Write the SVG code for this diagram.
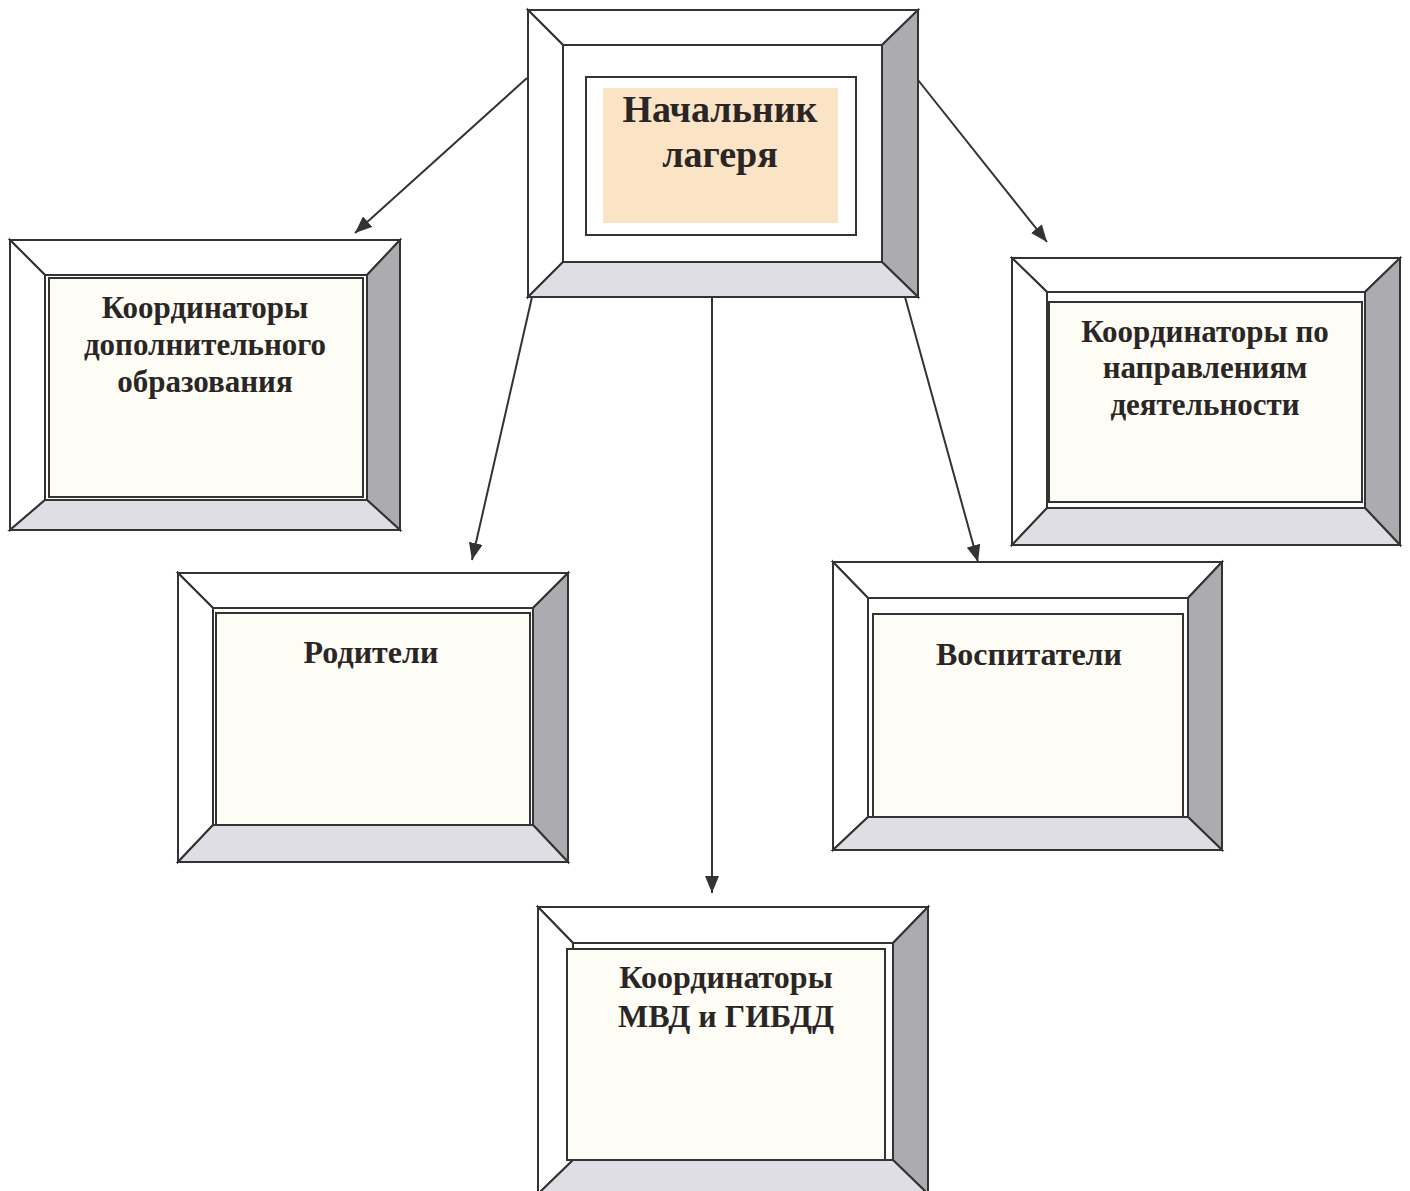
<svg xmlns="http://www.w3.org/2000/svg" width="1410" height="1191" viewBox="0 0 1410 1191">
<style>
.o{stroke:#333;stroke-width:2;stroke-linejoin:miter}
.w{fill:#ffffff}
.r{fill:#ababb0}
.b{fill:#dedee4}
.box{fill:#fdfcf5;stroke:#333;stroke-width:2}
.t{font-family:"Liberation Serif","Times New Roman",serif;font-weight:bold;fill:#2b2626;text-anchor:middle}
.c{stroke:#333;stroke-width:2;fill:none;marker-end:url(#ah)}
</style>
<defs>
<marker id="ah" markerUnits="userSpaceOnUse" markerWidth="18" markerHeight="14" refX="17" refY="7" orient="auto">
<path d="M0,0 L17,7 L0,14 z" fill="#333"/>
</marker>
</defs>
<rect width="1410" height="1191" fill="#ffffff"/>
<g id="connectors">
<line class="c" x1="527" y1="78" x2="355" y2="233"/>
<line class="c" x1="918" y1="80" x2="1047" y2="242"/>
<line class="c" x1="532" y1="297" x2="472" y2="560"/>
<line class="c" x1="712" y1="297" x2="712" y2="893"/>
<line class="c" x1="905" y1="297" x2="978" y2="562"/>
</g>
<g id="node-head">
<polygon class="o w" points="528,10 918,10 882,45 563,45"/>
<polygon class="o w" points="528,10 563,45 563,262 528,297"/>
<polygon class="o r" points="918,10 918,297 882,262 882,45"/>
<polygon class="o b" points="528,297 563,262 882,262 918,297"/>
<rect class="o" x="563" y="45" width="319" height="217" fill="#ffffff"/>
<rect class="box" x="586" y="77" width="270" height="158" fill="#ffffff" style="fill:#ffffff"/>
<rect x="603" y="88" width="235" height="135" fill="#fbe4c6"/>
<text class="t" x="720" y="122" font-size="38">Начальник</text>
<text class="t" x="720" y="167" font-size="38">лагеря</text>
</g>
<g id="node-dop">
<polygon class="o w" points="10,240 400,240 367,275 45,275"/>
<polygon class="o w" points="10,240 45,275 45,500 10,530"/>
<polygon class="o r" points="400,240 400,530 367,500 367,275"/>
<polygon class="o b" points="10,530 45,500 367,500 400,530"/>
<rect class="box" x="49" y="278" width="314" height="219"/>
<text class="t" x="205" y="318" font-size="31">Координаторы</text>
<text class="t" x="205" y="355" font-size="31">дополнительного</text>
<text class="t" x="205" y="392" font-size="31">образования</text>
</g>
<g id="node-napr">
<polygon class="o w" points="1012,258 1400,258 1365,292 1047,292"/>
<polygon class="o w" points="1012,258 1047,292 1047,508 1012,545"/>
<polygon class="o r" points="1400,258 1400,545 1365,508 1365,292"/>
<polygon class="o b" points="1012,545 1047,508 1365,508 1400,545"/>
<rect class="o" x="1047" y="292" width="318" height="216" fill="#ffffff"/>
<rect class="box" x="1049" y="302" width="313" height="200"/>
<text class="t" x="1205" y="342" font-size="31">Координаторы по</text>
<text class="t" x="1205" y="378" font-size="31">направлениям</text>
<text class="t" x="1205" y="415" font-size="31">деятельности</text>
</g>
<g id="node-rod">
<polygon class="o w" points="178,573 568,573 533,608 213,608"/>
<polygon class="o w" points="178,573 213,608 213,825 178,862"/>
<polygon class="o r" points="568,573 568,862 533,825 533,608"/>
<polygon class="o b" points="178,862 213,825 533,825 568,862"/>
<rect class="o" x="213" y="608" width="320" height="217" fill="#ffffff"/>
<rect class="box" x="216" y="613" width="314" height="212"/>
<text class="t" x="371" y="663" font-size="32">Родители</text>
</g>
<g id="node-vosp">
<polygon class="o w" points="833,562 1222,562 1188,598 868,598"/>
<polygon class="o w" points="833,562 868,598 868,817 833,850"/>
<polygon class="o r" points="1222,562 1222,850 1188,817 1188,598"/>
<polygon class="o b" points="833,850 868,817 1188,817 1222,850"/>
<rect class="o" x="868" y="598" width="320" height="219" fill="#ffffff"/>
<rect class="box" x="873" y="614" width="310" height="203"/>
<text class="t" x="1029" y="665" font-size="32">Воспитатели</text>
</g>
<g id="node-mvd">
<polygon class="o w" points="538,907 928,907 893,943 573,943"/>
<polygon class="o w" points="538,907 573,943 573,1160 538,1194"/>
<polygon class="o r" points="928,907 928,1194 893,1160 893,943"/>
<polygon class="o b" points="538,1194 573,1160 893,1160 928,1194"/>
<rect class="o" x="573" y="943" width="320" height="217" fill="#ffffff"/>
<rect class="box" x="567" y="949" width="318" height="211"/>
<text class="t" x="726" y="988" font-size="32">Координаторы</text>
<text class="t" x="726" y="1027" font-size="32">МВД и ГИБДД</text>
</g>
</svg>
